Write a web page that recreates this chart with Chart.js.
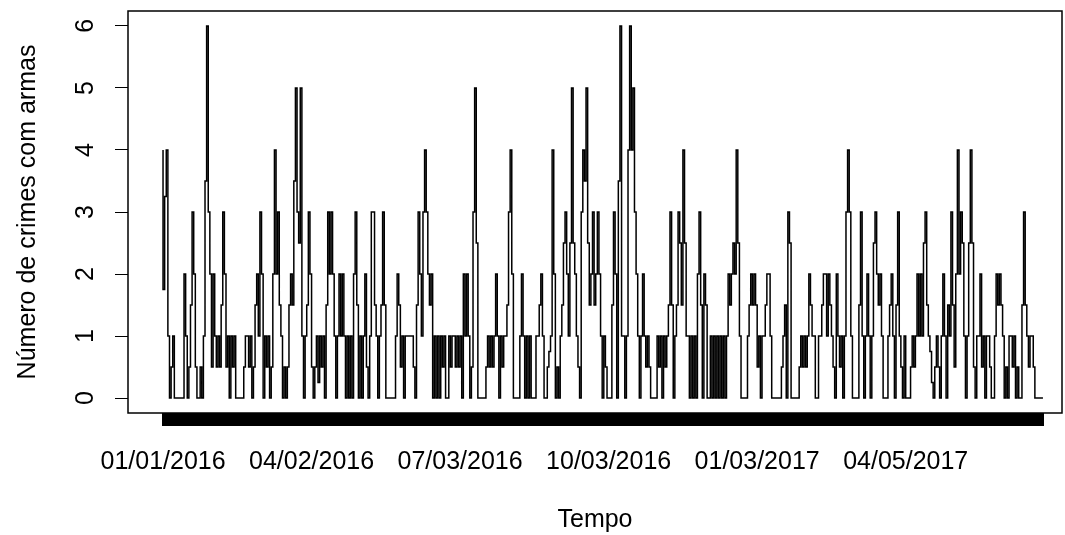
<!DOCTYPE html>
<html lang="pt">
<head>
<meta charset="utf-8">
<title>Número de crimes com armas</title>
<script src="https://cdn.jsdelivr.net/npm/chart.js@4.4.1/dist/chart.umd.min.js"></script>
<style>
  html, body { margin: 0; padding: 0; background: #fff; }
  #chart { display: block; }
</style>
</head>
<body>
<canvas id="chart" width="1065" height="535"></canvas>
<script>
// dates shown under the axis, one every 92 days
const tickLabels = ['01/01/2016', '04/02/2016', '07/03/2016', '10/03/2016', '01/03/2017', '04/05/2017'];
const labelEvery = 92;
const yTicks = [0, 1, 2, 3, 4, 5, 6];

// daily count (01/01/2016 onwards)
const weaponCrimes = [
  4, 1.75, 3.25, 4, 1, 0, 0.5, 1, 0, 0, 0, 0, 0, 0, 2, 1, 0, 0.5, 1.5, 3,
  2, 0.5, 0, 0, 0.5, 0, 1, 3.5, 6, 3, 2, 0.5, 2, 1, 0.5, 1, 0.5, 1.5, 3, 2,
  0.5, 1,
  0, 1, 0.5, 1, 0, 0, 0, 0, 0, 0.5, 1, 1, 0.5, 1, 0, 0.5, 1.5, 2, 1, 3,
  2, 0, 1, 0.5, 1, 0, 0.5, 2, 4, 2, 3, 1.5, 1, 0, 0.5, 0, 0.5, 1.5, 2, 1.5,
  3.5, 5, 3, 2.5, 5, 1,
  0, 1, 1.5, 3, 2, 0.5, 0, 0.5, 1, 0.25, 1, 0.5, 1, 0, 1.5, 3, 2, 3, 2, 1,
  0, 1, 2, 1, 2, 1, 0, 1, 0, 1, 0, 2, 3, 1.5, 0, 1, 0, 1, 2, 0.5,
  0, 1, 3, 3, 1.5, 1,
  0, 1, 1.5, 3, 1.5, 0, 0, 0, 0, 0, 0, 1, 2, 1.5, 0.5, 1, 0, 1, 1, 1,
  1, 1, 0.5, 0, 1.5, 3, 2, 1, 3, 4, 3, 2, 1.5, 2, 0, 1, 0, 1, 0, 1,
  0.5, 1, 0, 0, 1, 0.5, 1,
  1, 0.5, 1, 0.5, 1, 0, 2, 1, 2, 1, 0, 0.5, 3, 5, 2.5, 0, 0, 0, 0, 0,
  0.5, 1, 0.5, 1, 0.5, 1, 2, 1, 0, 1, 0.5, 1, 1, 1.5, 3, 4, 2, 0, 0, 0,
  0, 1, 2, 1, 0, 1, 0,
  1, 0, 0, 0, 1, 1, 1.5, 2, 1, 0, 0, 0.5, 0.75, 1, 4, 2, 0, 0.5, 0, 1,
  1.5, 2.5, 3, 2, 1, 2.5, 5, 2.5, 2, 1, 0.5, 0, 3, 4, 3.5, 5, 2.5, 1.5, 2, 3,
  1.5, 2, 3, 2, 1, 0,
  1, 0.5, 0, 0, 0, 1.5, 3, 2, 0, 3.5, 6, 1, 1, 0, 1, 4, 6, 4, 5, 3,
  2, 1, 0, 1, 2, 1, 0.5, 1, 0.5, 0, 0, 0, 0, 1, 0.5, 1, 0, 1, 0.5, 1,
  1.5, 3, 1.5, 0, 1, 1.5, 3,
  2.5, 1.5, 4, 2.5, 1, 1, 0, 1, 0, 1, 0, 2, 3, 1.5, 0, 2, 1.5, 0, 0, 1,
  0, 1, 0, 1, 0, 1, 0, 1, 0, 1, 2, 1.5, 2, 2.5, 2, 4, 2.5, 1, 0, 0,
  0, 0, 1, 1.5, 2, 1.5,
  2, 1.5, 0.5, 1, 0, 1, 1, 1.5, 2, 2, 1, 0, 0, 0, 0, 0, 0, 0.5, 1, 1.5,
  0, 3, 2.5, 0, 0, 0, 0, 0, 0.5, 1, 0.5, 1, 0.5, 1, 2, 1.5, 1, 1, 0, 0,
  1, 1, 1.5, 2, 2, 1,
  2, 1.5, 1, 0.5, 0, 2, 1, 0.5, 1, 0, 1, 3, 4, 3, 1, 0, 0, 0, 0, 1.5,
  3, 1, 0, 1, 2, 1, 0, 1, 2.5, 3, 2, 1.5, 2, 1, 0, 0, 0, 1, 1.5, 2,
  1, 0, 1.5, 3, 1, 0.5, 0,
  1, 0, 0, 0, 0.5, 1, 0.5, 1, 2, 1, 2, 1, 2.5, 3, 1.5, 1, 0.75, 0.25, 0, 0.5,
  1, 0.5, 0, 1, 2, 1, 0, 1.5, 1, 3, 1.5, 0.5, 2, 4, 2, 3, 2.5, 1, 0, 1,
  2.5, 4, 2.5, 0.5, 0, 1,
  1, 2, 0.5, 1, 0, 1, 1, 0.5, 0, 0, 1, 2, 1.5, 2, 1.5, 1, 0, 0.5, 0, 1,
  1, 0.5, 1, 0, 0.5, 0, 0, 1.5, 3, 1.5, 1, 0.5, 1, 1, 0.5, 0, 0, 0, 0, 0,
];

const days = weaponCrimes.map((_, i) => i);

// plot box in the reference, in canvas pixels
const box = { left: 128, right: 1062, top: 11, bottom: 413 };
const xMin = -21.7;
const xMax = 556.8;

Chart.defaults.font.family = '"Liberation Sans", Arial, sans-serif';
Chart.defaults.font.size = 25;
Chart.defaults.color = '#000';

const frame = {
  id: 'frame',
  afterDatasetsDraw(chart) {
    const { ctx, chartArea: { left, top, width, height } } = chart;
    ctx.save();
    ctx.strokeStyle = '#000';
    ctx.lineWidth = 1.5;
    ctx.strokeRect(left, top, width, height);
    ctx.restore();
  },
};

new Chart(document.getElementById('chart'), {
  type: 'line',
  data: {
    datasets: [
      {
        data: days.map((d) => ({ x: d, y: weaponCrimes[d] })),
        borderColor: '#000',
        borderWidth: 1.5,
        pointRadius: 0,
        stepped: 'after',
        fill: false,
      },
    ],
  },
  options: {
    responsive: false,
    animation: false,
    devicePixelRatio: 1,
    layout: {
      padding: { left: 0, top: box.top, right: 1065 - box.right, bottom: 0 },
    },
    plugins: {
      legend: { display: false },
      tooltip: { enabled: false },
    },
    scales: {
      x: {
        type: 'linear',
        min: xMin,
        max: xMax,
        afterBuildTicks: (scale) => {
          scale.ticks = days.map((d) => ({ value: d }));
        },
        afterFit: (scale) => {
          scale.height = 535 - box.bottom;
          scale.paddingLeft = 0;
          scale.paddingRight = 0;
        },
        ticks: {
          autoSkip: false,
          maxRotation: 0,
          padding: 21,
          callback: (value) => (value % labelEvery === 0 ? tickLabels[value / labelEvery] ?? '' : ''),
        },
        grid: { drawOnChartArea: false, tickLength: 13, color: '#000', lineWidth: 2 },
        border: { display: false },
        title: {
          display: true,
          text: 'Tempo',
          padding: { top: 0, bottom: 0 },
        },
      },
      y: {
        min: -0.24,
        max: 6.24,
        afterBuildTicks: (scale) => {
          scale.ticks = yTicks.map((v) => ({ value: v }));
        },
        afterFit: (scale) => {
          scale.width = box.left;
          scale.paddingTop = 0;
          scale.paddingBottom = 0;
        },
        ticks: {
          minRotation: 90,
          maxRotation: 90,
          crossAlign: 'center',
          padding: 22,
        },
        grid: { drawOnChartArea: false, tickLength: 13, color: '#000', lineWidth: 1 },
        border: { display: false },
        title: {
          display: true,
          text: 'Número de crimes com armas',
          padding: { top: 13, bottom: 0 },
        },
      },
    },
  },
  plugins: [frame],
});
</script>
</body>
</html>
